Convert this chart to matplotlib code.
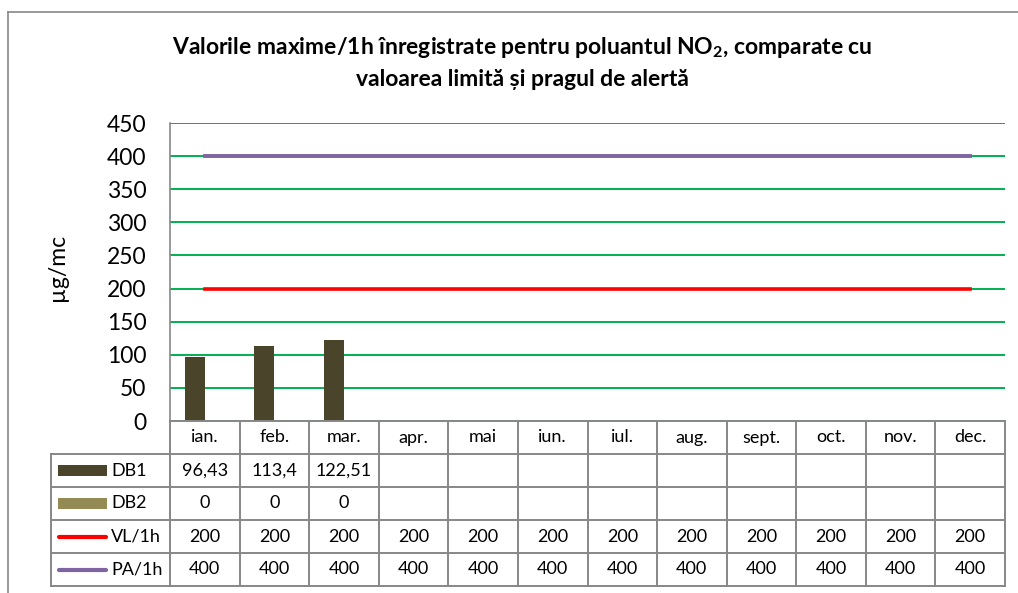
import matplotlib.pyplot as plt
import numpy as np

plt.rcParams['font.family'] = ['Lato', 'DejaVu Sans']
plt.rcParams['mathtext.fontset'] = 'custom'
plt.rcParams['mathtext.rm'] = 'Lato:bold'

months = ['ian.', 'feb.', 'mar.', 'apr.', 'mai', 'iun.', 'iul.', 'aug.',
          'sept.', 'oct.', 'nov.', 'dec.']
db1 = [96.43, 113.4, 122.51, None, None, None, None, None, None, None, None, None]
db2 = [0, 0, 0, None, None, None, None, None, None, None, None, None]
vl_1h = [200, 200, 200, 200, 200, 200, 200, 200, 200, 200, 200, 200]
pa_1h = [400, 400, 400, 400, 400, 400, 400, 400, 400, 400, 400, 400]
yticks = [0, 50, 100, 150, 200, 250, 300, 350, 400, 450]

c_db1 = '#4a452a'
c_db2 = '#948a54'
c_vl = '#ff0000'
c_pa = '#8064a2'
c_grid = '#00b050'
c_edge = '#878787'

W, H = 1018, 593
fig = plt.figure(figsize=(W / 100, H / 100), dpi=100)


def box(x0, y0, x1, y1):
    # pixel box (top-left origin) -> figure fraction rect
    return [x0 / W, 1 - y1 / H, (x1 - x0) / W, (y1 - y0) / H]


# chart frame (open at right and bottom, as cropped)
fig.add_artist(plt.Line2D([8 / W, 8 / W], [0, 1 - 12 / H], color=c_edge, lw=1.2))
fig.add_artist(plt.Line2D([8 / W, 1], [1 - 12 / H, 1 - 12 / H], color=c_edge, lw=1.2))

fig.text(522 / W, 1 - 48 / H,
         'Valorile maxime/1h înregistrate pentru poluantul NO$_2$, comparate cu',
         ha='center', va='center', fontsize=16.5, fontweight='bold')
fig.text(522 / W, 1 - 79 / H, 'valoarea limită și pragul de alertă',
         ha='center', va='center', fontsize=16.5, fontweight='bold')

ax = fig.add_axes(box(170, 123, 1005, 421))
x = np.arange(len(months))
h1 = np.array([np.nan if v is None else v for v in db1])
h2 = np.array([np.nan if v is None else v for v in db2])
ax.bar(x - 0.145, h1, width=0.29, color=c_db1, zorder=3)
ax.bar(x + 0.145, h2, width=0.29, color=c_db2, zorder=3)
ax.plot(x, vl_1h, color=c_vl, lw=2.6, zorder=4)
ax.plot(x, pa_1h, color=c_pa, lw=2.8, zorder=4)

ax.set_xlim(-0.5, len(months) - 0.5)
ax.set_ylim(0, 450)
ax.set_yticks(yticks)
ax.set_xticks([])
ax.yaxis.grid(True, color=c_grid, lw=1.4)
ax.set_axisbelow(True)
ax.tick_params(axis='y', length=0, pad=17, labelsize=16.5)
for s in ['top', 'right', 'bottom']:
    ax.spines[s].set_visible(False)
ax.spines['left'].set_color(c_edge)
ax.spines['left'].set_linewidth(1.2)

fig.text(57 / W, 1 - 267 / H, 'µg/mc', rotation=90, ha='center', va='center',
         fontsize=16.5)

# data table below the plot
col_px = 835 / len(months)
lab_w = 119 / col_px
tab = fig.add_axes(box(51, 421, 1005, 586))
tab.set_xlim(-0.5 - lab_w, len(months) - 0.5)
tab.set_ylim(5, 0)
tab.axis('off')

left = -0.5 - lab_w
right = len(months) - 0.5
lk = dict(color=c_edge, lw=1.4, clip_on=False, solid_capstyle='projecting')
tab.plot([-0.5, right], [0, 0], **lk)
for r in range(1, 6):
    tab.plot([left, right], [r, r], **lk)
for c in range(len(months) + 1):
    tab.plot([c - 0.5, c - 0.5], [0, 5], **lk)
tab.plot([left, left], [1, 5], **lk)

for i, m in enumerate(months):
    tab.text(i, 0.5, m, ha='center', va='center', fontsize=13)


def fmt(v):
    if v is None:
        return ''
    return str(v).replace('.', ',')


series = [('DB1', db1, c_db1, 'bar'), ('DB2', db2, c_db2, 'bar'),
          ('VL/1h', vl_1h, c_vl, 'line'), ('PA/1h', pa_1h, c_pa, 'line')]
sw0 = left + 7 / col_px
sw1 = left + 56 / col_px
for r, (name, vals, col, kind) in enumerate(series, start=1):
    yc = r + 0.5
    if kind == 'bar':
        tab.add_patch(plt.Rectangle((sw0, yc - 0.17), sw1 - sw0, 0.34,
                                    color=col, lw=0))
    else:
        tab.plot([sw0 + 0.02, sw1 - 0.02], [yc, yc], color=col, lw=3,
                 solid_capstyle='round')
    tab.text(sw1 + 4 / col_px, yc, name, ha='left', va='center', fontsize=13)
    for i, v in enumerate(vals):
        tab.text(i, yc, fmt(v), ha='center', va='center', fontsize=13)

fig.savefig('out.png', dpi=100)
